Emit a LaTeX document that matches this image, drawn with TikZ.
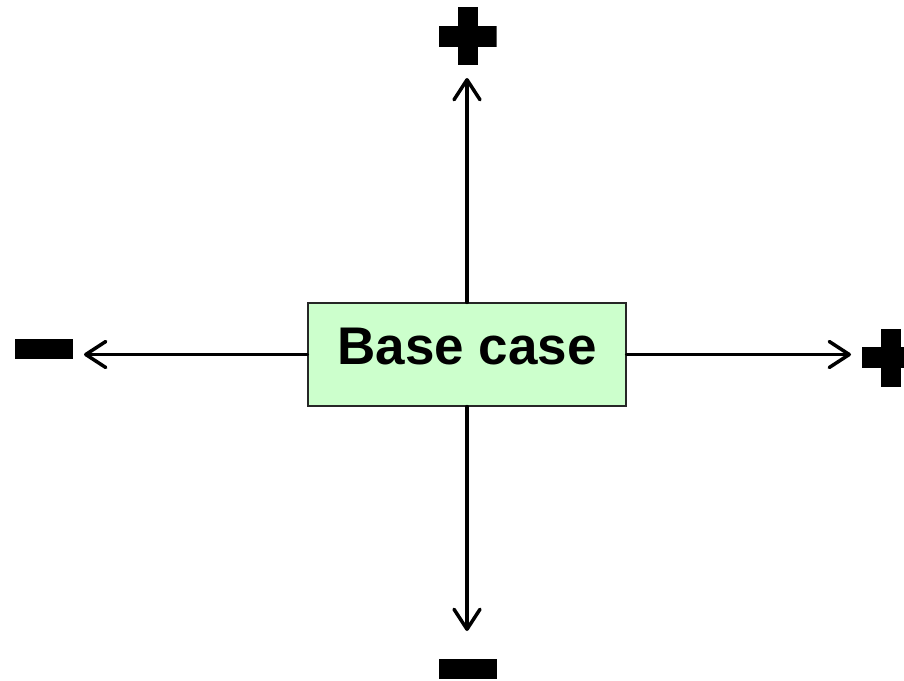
\documentclass[tikz,border=0pt]{standalone}
\usepackage{fontspec}
\setmainfont{Liberation Sans}
\usetikzlibrary{arrows.meta}
\definecolor{boxgreen}{HTML}{CCFFCC}
\begin{document}
\begin{tikzpicture}[x=1pt,y=-1pt,
  sign/.style={inner sep=0pt, outer sep=0pt},
  plussign/.style={sign, minimum width=58pt, minimum height=58pt, path picture={
     \fill[black] ([xshift=-10pt]path picture bounding box.north) rectangle ([xshift=10pt]path picture bounding box.south);
     \fill[black] ([yshift=10.5pt]path picture bounding box.west) rectangle ([yshift=-10.5pt]path picture bounding box.east);}},
  minussign/.style={sign, fill=black, minimum width=58pt, minimum height=20pt},
  link/.style={line width=3.5pt, line cap=round, -{Straight Barb[length=20pt,width=26pt,round]}},
  basebox/.style={draw=black!85, line width=1.2pt, fill=boxgreen, minimum width=318pt, minimum height=103pt, inner sep=0pt,
     text height=40pt, text depth=21pt,
     font=\fontsize{53}{60}\selectfont\bfseries}
]
\useasboundingbox (0,0) rectangle (904,680);
\clip (0,0) rectangle (904,680);
\node[basebox] (box) at (467,354.5) {Base case};
\node[plussign] (plusT) at (467.5,36) {};
\node[plussign] (plusR) at (891,357.5) {};
\node[minussign] (minusL) at (44,348.5) {};
\node[minussign] (minusB) at (467.5,669) {};
\coordinate (tipT) at (467,78);
\coordinate (tipB) at (467,631);
\coordinate (tipL) at (84,354.5);
\coordinate (tipR) at (851,354.5);
\draw[link] (box.north) -- (tipT);
\draw[link] (box.south) -- (tipB);
\draw[link] (box.west) -- (tipL);
\draw[link] (box.east) -- (tipR);
\end{tikzpicture}
\end{document}
